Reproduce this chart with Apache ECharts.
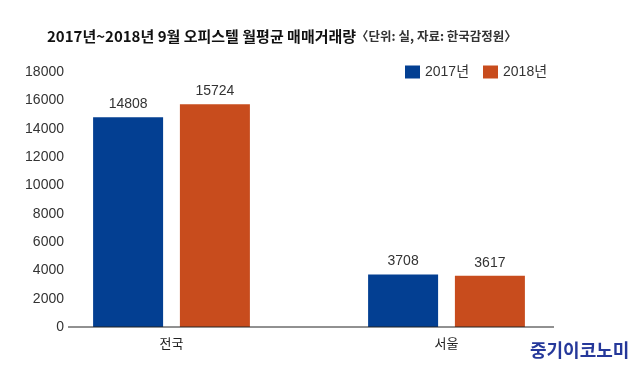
<!DOCTYPE html>
<html><head><meta charset="utf-8">
<script src="https://cdn.jsdelivr.net/npm/echarts@6/dist/echarts.min.js"></script>
<style>html,body{margin:0;padding:0;background:#fff}#c{width:640px;height:379px}</style>
</head><body><div id="c"></div>
<script>
const categories = ['전국', '서울'];
const seriesNames = ['2017년', '2018년'];
const values2017 = [14808, 3708];
const values2018 = [15724, 3617];
const colors = ['#033f92', '#c84c1d'];

const chart = echarts.init(document.getElementById('c'));
const labelStyle = {show: true, position: 'top', distance: 6, color: '#333', fontSize: 14, fontFamily: 'Liberation Sans, Arial, sans-serif'};
chart.setOption({
  animation: false,
  title: {
    left: 42, top: 24,
    text: '{a|2017년~2018년 9월 오피스텔 월평균 매매거래량}{b|〈단위: 실, 자료: 한국감정원〉}',
    textStyle: {
      rich: {
        a: {fontSize: 15, fontWeight: 'bold', color: '#111', fontFamily: 'Noto Sans CJK KR'},
        b: {fontSize: 12.5, color: '#333', fontFamily: 'Noto Sans CJK KR'}
      }
    }
  },
  legend: {
    left: 400, top: 60, itemWidth: 15, itemHeight: 13, itemGap: 14,
    textStyle: {fontSize: 14, color: '#333', fontFamily: 'Liberation Sans, Noto Sans CJK KR, sans-serif'},
    data: seriesNames.map(n => ({name: n, icon: 'rect'}))
  },
  grid: {left: 34, right: 56, top: 72, bottom: 52},
  xAxis: {
    type: 'category', data: categories,
    axisLine: {show: false}, axisTick: {show: false},
    axisLabel: {color: '#222', fontSize: 13, margin: 10, fontFamily: 'Noto Sans CJK KR'}
  },
  yAxis: {
    type: 'value', min: 0, max: 18000, interval: 2000, offset: -34,
    axisLine: {show: false}, axisTick: {show: false}, splitLine: {show: false},
    axisLabel: {color: '#333', fontSize: 14, margin: 4, formatter: v => String(v), fontFamily: 'Liberation Sans, Arial, sans-serif'}
  },
  series: [
    {name: seriesNames[0], type: 'bar', data: values2017, barWidth: 70, barGap: '24%', itemStyle: {color: colors[0]}, label: labelStyle},
    {name: seriesNames[1], type: 'bar', data: values2018, barWidth: 70, itemStyle: {color: colors[1]}, label: labelStyle}
  ],
  graphic: [
    {type: 'line', shape: {x1: 68, y1: 327, x2: 554, y2: 327}, style: {stroke: '#222', lineWidth: 1}, z: 10},
    {type: 'text', left: 530, top: 341, style: {text: '중기이코노미', fontSize: 18, fontWeight: 'bold', fill: '#25389a', fontFamily: 'Noto Sans CJK KR'}}
  ]
});
</script></body></html>
